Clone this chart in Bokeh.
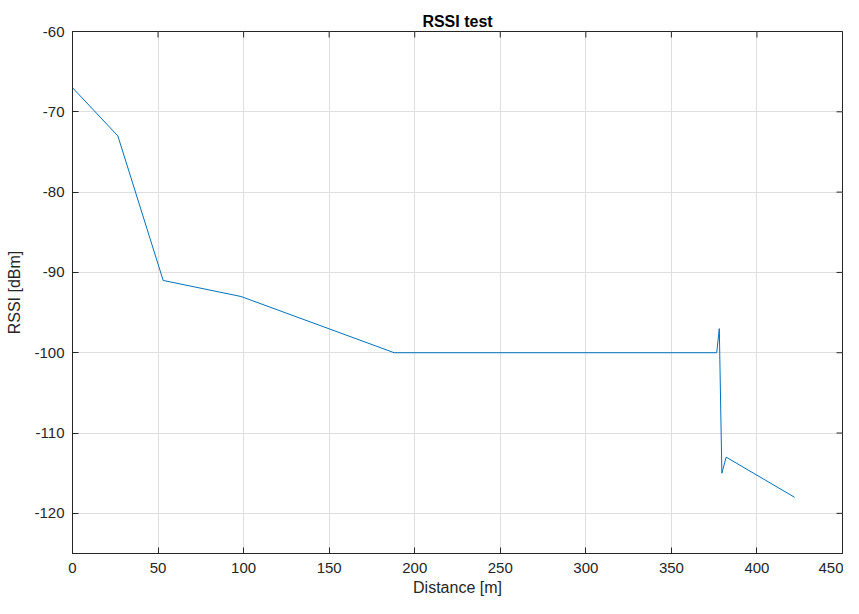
from bokeh.plotting import figure
from bokeh.models import Range1d, FixedTicker, PrintfTickFormatter
from bokeh.embed import file_html
from bokeh.resources import INLINE

distance = [0, 26.5, 53, 98.5, 188, 376.5, 378, 379.5, 382, 422]
rssi = [-67, -73, -91, -93, -100, -100, -97, -115, -113, -118]
x_ticks = [0, 50, 100, 150, 200, 250, 300, 350, 400, 450]
y_ticks = [-120, -110, -100, -90, -80, -70, -60]

FONT = "Liberation Sans"
X_MIN, X_MAX, Y_MIN, Y_MAX = 0, 450, -125, -60

p = figure(width=843, height=598, output_backend="svg", toolbar_location=None,
           x_range=Range1d(X_MIN, X_MAX), y_range=Range1d(Y_MIN, Y_MAX),
           title="RSSI test", min_border_left=72, min_border_right=1,
           min_border_top=31, min_border_bottom=42)

p.title.align = "center"
p.title.text_font = FONT
p.title.text_font_size = "16px"
p.title.text_font_style = "bold"
p.title.text_color = "#000000"
p.title.standoff = 4

p.xgrid.ticker = FixedTicker(ticks=x_ticks)
p.ygrid.ticker = FixedTicker(ticks=y_ticks)
p.grid.grid_line_color = "#dfdfdf"
p.grid.grid_line_width = 1

p.line(distance, rssi, line_color="#0072BD", line_width=1)

# inward ticks on the top and right edges of the box (outer halves are clipped by the frame)
p.scatter(x=x_ticks, y=[Y_MAX] * len(x_ticks), marker="dash", size=12, angle=1.5708,
          line_color="#262626", line_width=1)
p.scatter(x=[X_MAX] * len(y_ticks), y=y_ticks, marker="dash", size=12,
          line_color="#262626", line_width=1)

for ax in (p.xaxis[0], p.yaxis[0]):
    ax.major_tick_in = 6
    ax.major_tick_out = 0
    ax.minor_tick_in = 0
    ax.minor_tick_out = 0
    ax.axis_line_color = "#262626"
    ax.major_tick_line_color = "#262626"
    ax.major_label_text_font = FONT
    ax.major_label_text_font_size = "15px"
    ax.major_label_text_color = "#262626"
    ax.axis_label_text_font = FONT
    ax.axis_label_text_font_size = "16px"
    ax.axis_label_text_font_style = "normal"
    ax.axis_label_text_color = "#262626"
    ax.formatter = PrintfTickFormatter(format="%d")

p.xaxis[0].ticker = FixedTicker(ticks=x_ticks)
p.yaxis[0].ticker = FixedTicker(ticks=y_ticks)
p.xaxis[0].axis_label = "Distance [m]"
p.yaxis[0].axis_label = "RSSI [dBm]"
p.xaxis[0].major_label_standoff = 9
p.yaxis[0].major_label_standoff = 8
p.xaxis[0].axis_label_standoff = 3
p.yaxis[0].axis_label_standoff = 8

p.outline_line_color = "#262626"
p.outline_line_width = 1
p.background_fill_color = "white"
p.border_fill_color = "white"

open("out.html", "w").write(file_html(p, INLINE))
